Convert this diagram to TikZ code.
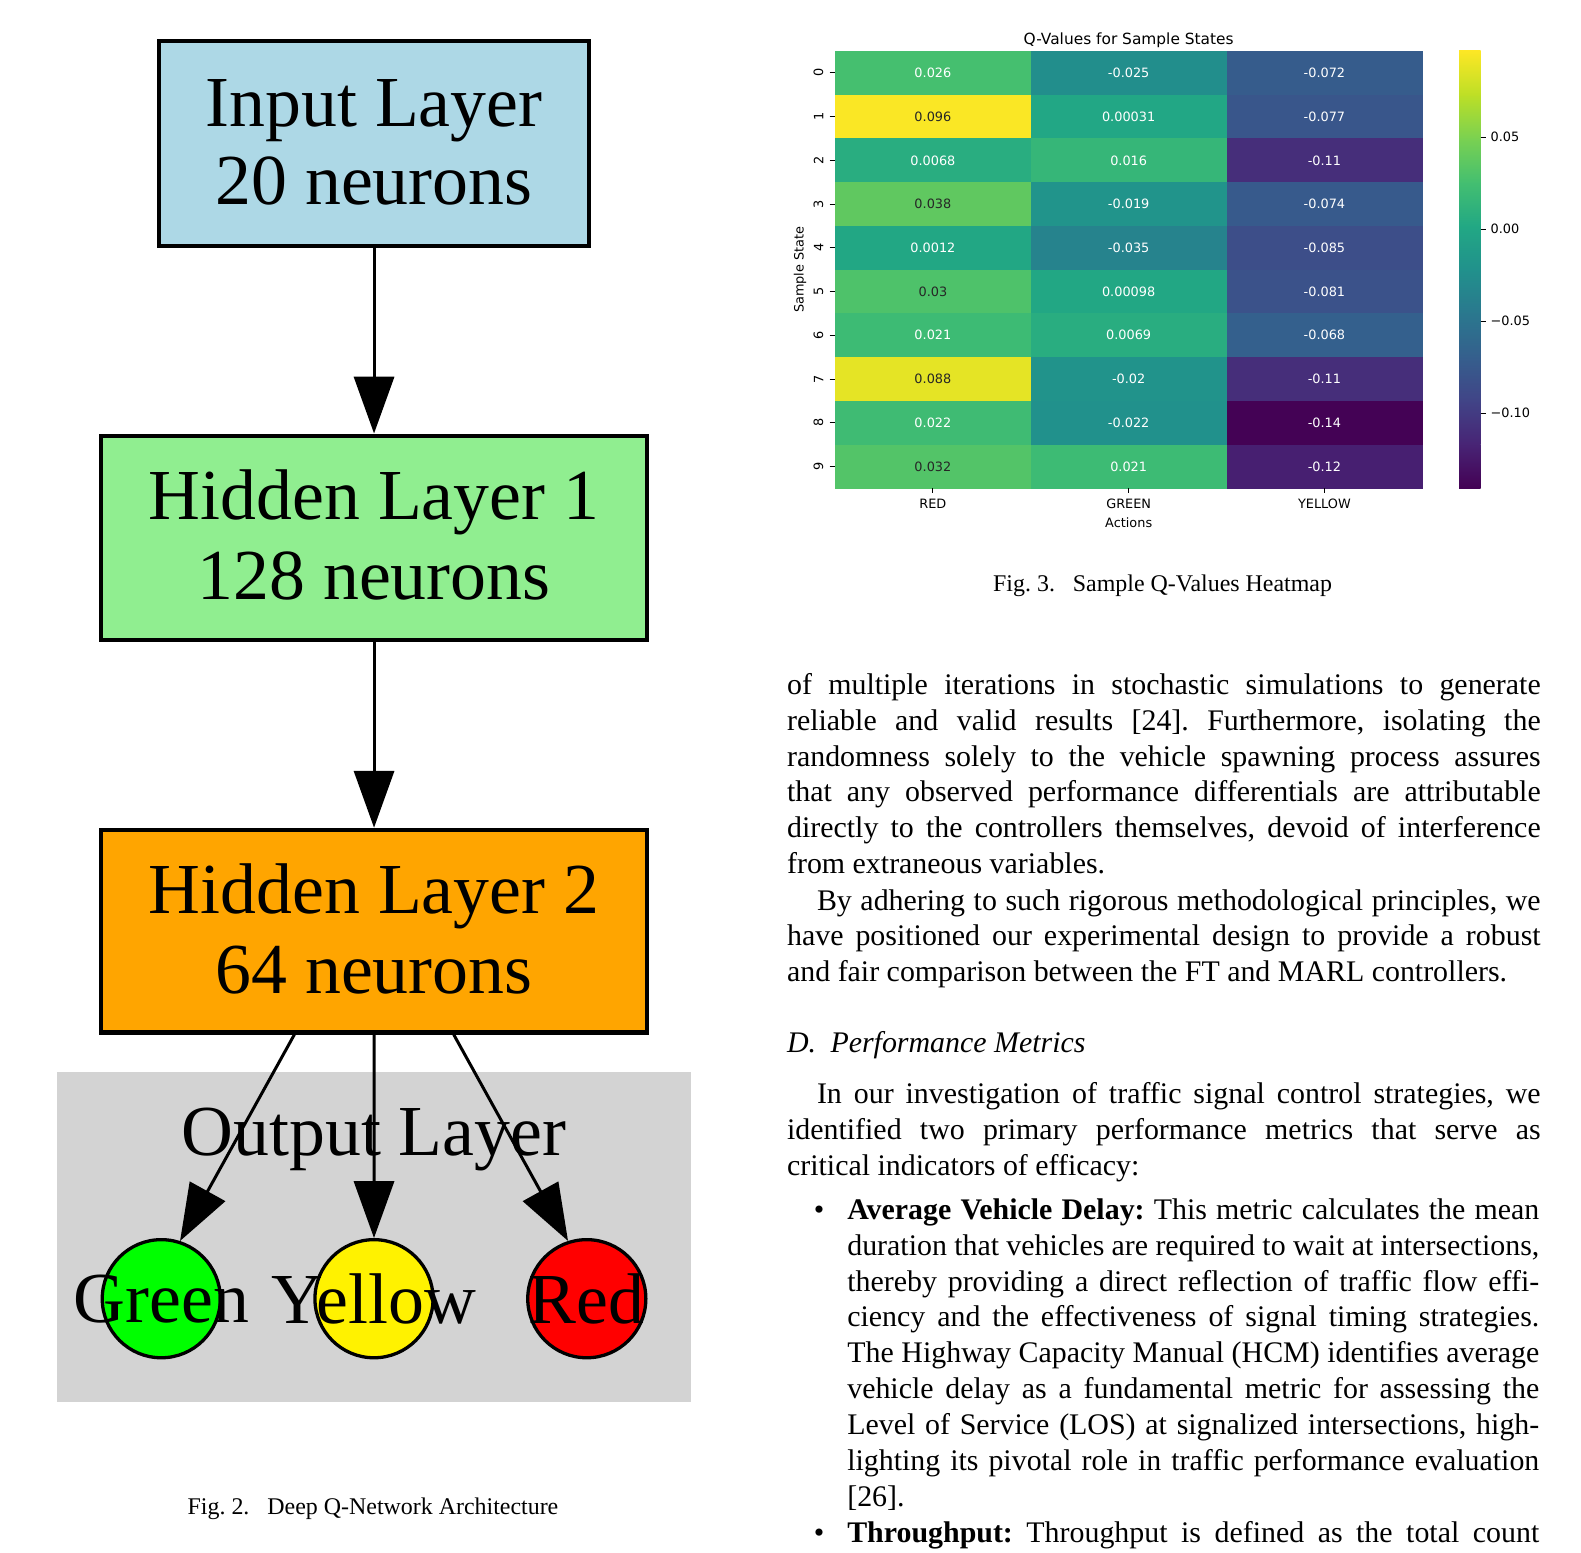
\documentclass[tikz,border=0pt]{standalone}
\usepackage{fontspec}
\setmainfont{Liberation Serif}
\newfontfamily\dejavu{DejaVu Sans}
\usetikzlibrary{arrows.meta,fit,calc}

\definecolor{vir0}{HTML}{440154}
\definecolor{vir1}{HTML}{482475}
\definecolor{vir2}{HTML}{414487}
\definecolor{vir3}{HTML}{355F8D}
\definecolor{vir4}{HTML}{2A788E}
\definecolor{vir5}{HTML}{21918C}
\definecolor{vir6}{HTML}{22A884}
\definecolor{vir7}{HTML}{44BF70}
\definecolor{vir8}{HTML}{7AD151}
\definecolor{vir9}{HTML}{BDDF26}
\definecolor{vir10}{HTML}{FDE725}
\definecolor{dtxt}{HTML}{262626}
\definecolor{boxblue}{HTML}{ADD8E6}
\definecolor{boxgreen}{HTML}{90EE90}
\definecolor{boxorange}{HTML}{FFA500}
\definecolor{clustergray}{HTML}{D3D3D3}

\newcommand\setvir[1]{%
  \pgfmathsetmacro\hvT{max(0,min(1,(#1+0.1408)/0.2377))*10}%
  \pgfmathtruncatemacro\hvI{min(9,floor(\hvT))}%
  \pgfmathtruncatemacro\hvJ{\hvI+1}%
  \pgfmathtruncatemacro\hvP{round((\hvT-\hvI)*100)}%
  \colorlet{cellc}{vir\hvJ!\hvP!vir\hvI}%
}
\newcommand\hcell[4]{%
  \setvir{#3}%
  \fill[cellc] (835+195.77*#1,51+43.73*#2) rectangle ++(196.3,44.2);
  \node[celltxt,text=#4] (c#1#2) at (932.885+195.77*#1,72.865+43.73*#2) {#3};
}
\newcommand\nohyph{\hyphenpenalty=10000 \exhyphenpenalty=10000 \frenchspacing }

\tikzset{
  layerbox/.style={draw=black, line width=1.4pt, inner sep=0pt},
  boxtext/.style={font=\fontsize{24}{26.3}\selectfont, inner sep=0pt, anchor=base},
  outnode/.style={circle, draw=black, line width=1.1pt, minimum size=39.5pt, inner sep=0pt},
  outlabel/.style={font=\fontsize{24}{26.3}\selectfont, inner sep=0pt},
  arr/.style={line width=1pt, -{Triangle[length=19pt,width=13.4pt]}},
  celltxt/.style={font=\dejavu\fontsize{4.3}{5}\selectfont, inner sep=0pt},
  ticklab/.style={font=\dejavu\fontsize{4.3}{5}\selectfont, inner sep=0pt, text=black},
  tickline/.style={line width=0.3pt, black},
  bodyfont/.style={font=\fontsize{10}{12}\selectfont, inner sep=0pt},
  body/.style={bodyfont, align=justify, anchor=base west},
  capt/.style={font=\fontsize{8}{9.6}\selectfont, inner sep=0pt, anchor=base}
}

\begin{document}
\begin{tikzpicture}[x=0.3344pt, y=-0.3344pt]
\useasboundingbox (0,0) rectangle (1581,1553);
\fill[white] (0,0) rectangle (1581,1553);

% ---------------- left: network diagram ----------------
\node[fill=clustergray, inner sep=0pt, fit={(56.5,1071.8) (690.7,1401.5)}] (cl) {};
\node[outlabel, anchor=base] (ol) at (374,1155.5) {Output Layer};

\node[layerbox, fill=boxblue, fit={(159.3,41.3) (588.8,246)}] (inp) {};
\node[boxtext] (inpa) at (374,126) {Input Layer};
\node[boxtext] (inpb) at (374,204.7) {20 neurons};

\node[layerbox, fill=boxgreen, fit={(100.8,435.6) (647.3,640.3)}] (h1) {};
\node[boxtext] (h1a) at (374,519.5) {Hidden Layer 1};
\node[boxtext] (h1b) at (374,599) {128 neurons};

\node[layerbox, fill=boxorange, fit={(100.8,829.8) (647.3,1032.5)}] (h2) {};
\node[boxtext] (h2a) at (374,913.5) {Hidden Layer 2};
\node[boxtext] (h2b) at (374,993) {64 neurons};

\node[outnode, fill=green] (g) at (161.3,1298.7) {};
\node[outnode, fill=yellow] (yc) at (374,1298.7) {};
\node[outnode, fill=red] (rc) at (586.8,1298.7) {};

\draw[arr] (inp) -- (h1);
\draw[arr] (h1) -- (h2);
\draw[arr] ([xshift=-26.65pt]h2.south) -- (g.72);
\draw[arr] (h2) -- (yc);
\draw[arr] ([xshift=26.65pt]h2.south) -- (rc.108);

\node[outlabel] (gl) at (g) {Green};
\node[outlabel] (yl) at (yc) {Yellow};
\node[outlabel] (rl) at (rc) {Red};

\node[capt] (cap2) at (373,1514) {Fig.\ 2.\hspace{6pt}Deep Q-Network Architecture};

% ---------------- right: heatmap ----------------
\node[font=\dejavu\fontsize{5.15}{6}\selectfont, anchor=base, inner sep=0pt] (title) at (1128.7,44) {Q-Values for Sample States};

\hcell{0}{0}{0.026}{white}
\hcell{1}{0}{-0.025}{white}
\hcell{2}{0}{-0.072}{white}
\hcell{0}{1}{0.096}{dtxt}
\hcell{1}{1}{0.00031}{white}
\hcell{2}{1}{-0.077}{white}
\hcell{0}{2}{0.0068}{white}
\hcell{1}{2}{0.016}{white}
\hcell{2}{2}{-0.11}{white}
\hcell{0}{3}{0.038}{dtxt}
\hcell{1}{3}{-0.019}{white}
\hcell{2}{3}{-0.074}{white}
\hcell{0}{4}{0.0012}{white}
\hcell{1}{4}{-0.035}{white}
\hcell{2}{4}{-0.085}{white}
\hcell{0}{5}{0.03}{dtxt}
\hcell{1}{5}{0.00098}{white}
\hcell{2}{5}{-0.081}{white}
\hcell{0}{6}{0.021}{white}
\hcell{1}{6}{0.0069}{white}
\hcell{2}{6}{-0.068}{white}
\hcell{0}{7}{0.088}{dtxt}
\hcell{1}{7}{-0.02}{white}
\hcell{2}{7}{-0.11}{white}
\hcell{0}{8}{0.022}{white}
\hcell{1}{8}{-0.022}{white}
\hcell{2}{8}{-0.14}{white}
\hcell{0}{9}{0.032}{dtxt}
\hcell{1}{9}{0.021}{white}
\hcell{2}{9}{-0.12}{white}

% y ticks
\foreach \i in {0,...,9}{
  \draw[tickline] (829.5,72.865+43.73*\i) -- (835,72.865+43.73*\i);
  \node[ticklab, rotate=90, anchor=south] (yt\i) at (824,72.865+43.73*\i) {\i};
}
\node[ticklab, rotate=90] (ylab) at (800,269.6) {Sample State};

% x ticks
\foreach \i/\lab in {0/RED,1/GREEN,2/YELLOW}{
  \draw[tickline] (932.9+195.77*\i,488.3) -- (932.9+195.77*\i,493);
  \node[ticklab, anchor=north] (xt\i) at (932.9+195.77*\i,498.5) {\lab};
}
\node[ticklab, anchor=north] (xlab) at (1128.7,517) {Actions};

% colorbar
\foreach \i in {0,...,9}{
  \pgfmathtruncatemacro\jj{\i+1}
  \shade[bottom color=vir\i, top color=vir\jj]
    (1459,488.3-43.73*\i+0.4) rectangle (1480.7,488.3-43.73*\i-43.73-0.4);
}
\foreach \v/\yy/\lab in {a/137.3/0.05, b/229.3/0.00, c/321.2/−0.05, d/413.2/−0.10}{
  \draw[tickline] (1480.7,\yy) -- (1486,\yy);
  \node[ticklab, anchor=west] (cb\v) at (1490,\yy) {\lab};
}

\node[capt] (cap3) at (1162.6,591) {Fig.\ 3.\hspace{6pt}Sample Q-Values Heatmap};

% ---------------- right: body text ----------------
\node[body, text width=252pt] (p1) at (786.5,694.3) {\nohyph of multiple iterations in stochastic simulations to generate\linebreak
reliable and valid results [24]. Furthermore, isolating the\linebreak
randomness solely to the vehicle spawning process assures\linebreak
that any observed performance differentials are attributable\linebreak
directly to the controllers themselves, devoid of interference\linebreak
from extraneous variables.};

\node[body, text width=252pt] (p2) at (786.5,910) {\nohyph\hspace*{10pt}By adhering to such rigorous methodological principles, we\linebreak
have positioned our experimental design to provide a robust\linebreak
and fair comparison between the FT and MARL controllers.};

\node[bodyfont, anchor=base west] (hd) at (786.5,1052.3) {\itshape D.\hspace{4.8pt}Performance Metrics};

\node[body, text width=252pt] (p3) at (786.5,1103.6) {\nohyph\hspace*{10pt}In our investigation of traffic signal control strategies, we\linebreak
identified two primary performance metrics that serve as\linebreak
critical indicators of efficacy:};

\node[bodyfont, anchor=base] (b1) at (819,1219.3) {\textbullet};
\node[body, text width=231.4pt] (i1) at (846.7,1219.3) {\nohyph\textbf{Average Vehicle Delay:} This metric calculates the mean\linebreak
duration that vehicles are required to wait at intersections,\linebreak
thereby providing a direct reflection of traffic flow effi-\linebreak
ciency and the effectiveness of signal timing strategies.\linebreak
The Highway Capacity Manual (HCM) identifies average\linebreak
vehicle delay as a fundamental metric for assessing the\linebreak
Level of Service (LOS) at signalized intersections, high-\linebreak
lighting its pivotal role in traffic performance evaluation\linebreak{}
[26].};

\node[bodyfont, anchor=base] (b2) at (819,1542) {\textbullet};
\node[body, text width=231.4pt] (i2) at (846.7,1542) {\nohyph\parfillskip=0pt \textbf{Throughput:} Throughput is defined as the total count\par};
\end{tikzpicture}
\end{document}
